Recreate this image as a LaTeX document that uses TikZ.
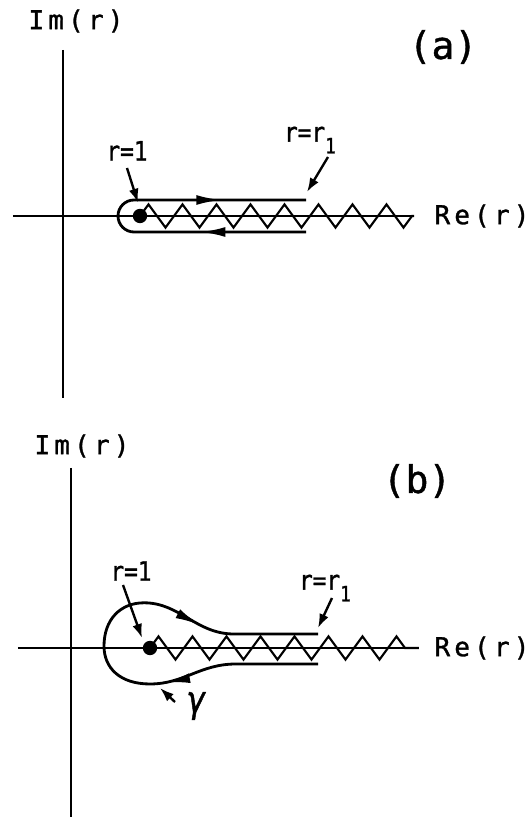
\documentclass[tikz,border=0pt]{standalone}
\usepackage{fontspec}
\usepackage{tikz}
\usetikzlibrary{arrows.meta, positioning, calc, decorations.pathmorphing, decorations.markings}
\newfontfamily\letterfont[FakeStretch=0.85, FakeBold=1.2]{DejaVu Sans Mono}
\newfontfamily\axisfont[LetterSpace=16, FakeBold=1.2]{DejaVu Sans Mono}
\newfontfamily\panelfont[FakeBold=1.2]{DejaVu Sans Mono}
\definecolor{inkblack}{RGB}{0, 0, 0}
\newcommand{\lowone}{\raisebox{-0.8ex}{\fontsize{15}{16}\selectfont 1}}

\tikzset{
  flowhead/.tip={Latex[length=18pt,width=7pt]},
  axisline/.style={draw=inkblack, line width=1.5pt},
  branchcut/.style={draw=inkblack, line width=1.5pt, decorate,
    decoration={zigzag, segment length=0.85cm, amplitude=0.29cm}},
  contour/.style={draw=inkblack, line width=2pt, postaction={decorate}},
  pointer/.style={draw=inkblack, line width=1.7pt, -{Latex[length=10pt,width=7pt]}},
  pole/.style={circle, fill=inkblack, inner sep=0pt, minimum size=0.36cm},
  axislabel/.style={font=\axisfont\fontsize{18.5}{20}\selectfont, inner sep=0pt},
  ptlabel/.style={font=\letterfont\fontsize{19}{21}\selectfont, inner sep=0pt},
  panellabel/.style={font=\panelfont\fontsize{27}{29}\selectfont, inner sep=0pt}
}

\begin{document}
\begin{tikzpicture}
  \useasboundingbox (0,0) rectangle (13.25,20.6);

  % panel (a)
  \coordinate (imTopA) at (1.575,19.35);
  \coordinate (imBotA) at (1.575,10.65);
  \coordinate (reLeftA) at (0.325,15.2);
  \coordinate (reRightA) at (10.35,15.2);
  \draw[axisline] (imTopA) -- (imBotA);
  \draw[axisline] (reLeftA) -- (reRightA);
  \node[axislabel] (imA) at (1.9,20.075) {Im(r)};
  \node[axislabel] (reA) at (12.05,15.2) {Re(r)};
  \node[panellabel] (panelA) at (11.075,19.425) {(a)};

  \node[pole] (poleA) at (3.5,15.2) {};
  \draw[branchcut] (poleA.center) -- (reRightA);
  \draw[contour, decoration={markings,
      mark=at position 2.65cm with {\arrow{flowhead}},
      mark=at position 7.75cm with {\arrow{flowhead}}}]
    (7.65,14.8) -- (3.35,14.8) arc[start angle=-90, end angle=-270, radius=0.4] -- (7.65,15.6);

  \coordinate (oneTailA) at (3.175,16.4);
  \coordinate (oneTipA) at (3.45,15.53);
  \node[ptlabel, above=0.18cm of oneTailA] (oneA) {r=1};
  \draw[pointer] (oneTailA) -- (oneTipA);
  \coordinate (rrTailA) at (8.2,16.675);
  \coordinate (rrTipA) at (7.675,15.8);
  \node[ptlabel] (rrA) at (7.75,17.1) {r=r\lowone};
  \draw[pointer] (rrTailA) -- (rrTipA);

  % panel (b)
  \coordinate (imTopB) at (1.775,8.9);
  \coordinate (imBotB) at (1.775,0.175);
  \coordinate (reLeftB) at (0.45,4.4);
  \coordinate (reRightB) at (10.47,4.4);
  \draw[axisline] (imTopB) -- (imBotB);
  \draw[axisline] (reLeftB) -- (reRightB);
  \node[axislabel] (imB) at (2.05,9.45) {Im(r)};
  \node[axislabel] (reB) at (12.05,4.4) {Re(r)};
  \node[panellabel] (panelB) at (10.425,8.575) {(b)};

  \node[pole] (poleB) at (3.75,4.4) {};
  \draw[branchcut] (poleB.center) -- (reRightB);
  \draw[contour, decoration={markings,
      mark=at position 3.9cm with {\arrow{flowhead}},
      mark=at position 9.15cm with {\arrow{flowhead}}}]
    (7.95,4.0) -- (5.9,4.0)
    .. controls (5.0,4.0) and (4.6,3.5) .. (3.75,3.5)
    .. controls (3.0,3.5) and (2.6,3.9) .. (2.6,4.45)
    .. controls (2.6,5.1) and (3.0,5.53) .. (3.6,5.53)
    .. controls (4.5,5.53) and (4.9,4.75) .. (5.85,4.75) -- (7.95,4.75);

  \coordinate (oneTailB) at (3.075,5.975);
  \coordinate (oneTipB) at (3.55,4.65);
  \node[ptlabel] (oneB) at (3.275,6.325) {r=1};
  \draw[pointer] (oneTailB) -- (oneTipB);
  \coordinate (rrTailB) at (8.3,5.65);
  \coordinate (rrTipB) at (7.95,4.9);
  \node[ptlabel] (rrB) at (8.125,5.9) {r=r\lowone};
  \draw[pointer] (rrTailB) -- (rrTipB);
  \coordinate (gammaTail) at (4.375,3.05);
  \coordinate (gammaTip) at (4.0,3.4);
  \node[font=\letterfont\itshape\fontsize{26}{28}\selectfont, inner sep=0pt] (gammaB) at (4.925,2.95) {γ};
  \draw[pointer] (gammaTail) -- (gammaTip);
\end{tikzpicture}
\end{document}
